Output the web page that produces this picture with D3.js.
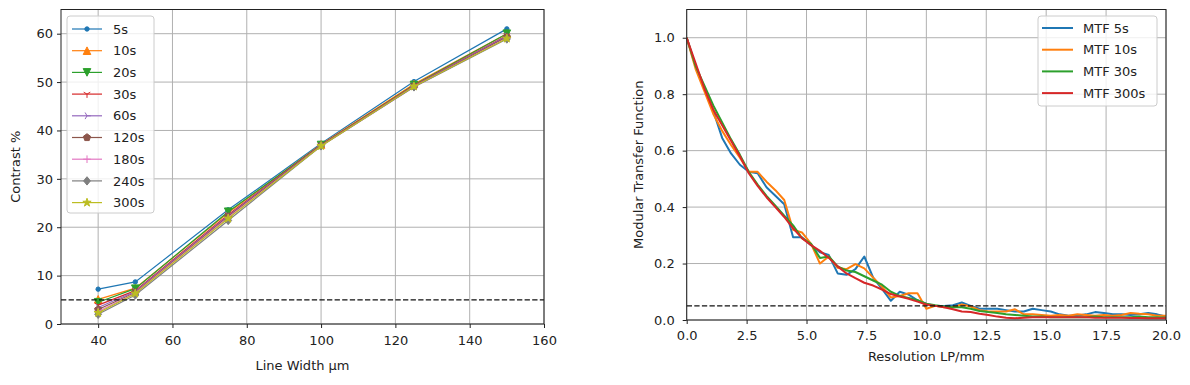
<!DOCTYPE html>
<html>
<head>
<meta charset="utf-8">
<script src="https://d3js.org/d3.v7.min.js"></script>
<style>
  body { margin: 0; background: #fff; }
  text { font-family: "DejaVu Sans", sans-serif; fill: #222; }
</style>
</head>
<body>
<div id="chart"></div>
<script>
// ---- left panel: contrast vs line width ----
var lineWidths = [40, 50, 75, 100, 125, 150];
var exposures = ["5s", "10s", "20s", "30s", "60s", "120s", "180s", "240s", "300s"];
var contrast5s   = [7.2, 8.7, 23.6, 37.3, 50.1, 61.0];
var contrast10s  = [5.1, 7.4, 23.0, 37.1, 49.6, 60.0];
var contrast20s  = [4.5, 7.3, 23.2, 37.0, 49.4, 60.0];
var contrast30s  = [3.9, 6.9, 22.6, 37.0, 49.3, 59.6];
var contrast60s  = [3.4, 6.7, 22.4, 36.9, 49.2, 59.5];
var contrast120s = [3.0, 6.5, 22.2, 36.9, 49.1, 59.3];
var contrast180s = [2.6, 6.4, 22.0, 36.8, 49.0, 59.1];
var contrast240s = [2.0, 6.0, 21.4, 36.8, 49.0, 58.9];
var contrast300s = [2.3, 6.3, 21.8, 36.8, 49.1, 59.0];
var contrastSeries = [contrast5s, contrast10s, contrast20s, contrast30s, contrast60s,
                      contrast120s, contrast180s, contrast240s, contrast300s];
var contrastXTicks = [40, 60, 80, 100, 120, 140, 160];
var contrastYTicks = [0, 10, 20, 30, 40, 50, 60];
var contrastLimit = 5;

// ---- right panel: MTF vs resolution ----
var mtfRes = [0.00, 0.37, 0.74, 1.11, 1.48, 1.85, 2.22, 2.59, 2.96, 3.33, 3.70, 4.07, 4.44, 4.81,
              5.19, 5.56, 5.93, 6.30, 6.67, 7.04, 7.41, 7.78, 8.15, 8.52, 8.89, 9.26, 9.63, 10.00,
              10.37, 10.74, 11.11, 11.48, 11.85, 12.22, 12.59, 12.96, 13.33, 13.70, 14.07, 14.44,
              14.81, 15.19, 15.56, 15.93, 16.30, 16.67, 17.04, 17.41, 17.78, 18.15, 18.52, 18.89,
              19.26, 19.63, 20.00];
var mtf5s = [1.0, 0.9, 0.82, 0.74, 0.645, 0.59, 0.55, 0.525, 0.52, 0.47, 0.44, 0.41, 0.293, 0.293,
             0.265, 0.24, 0.23, 0.165, 0.16, 0.18, 0.225, 0.15, 0.11, 0.068, 0.1, 0.09, 0.07, 0.057,
             0.05, 0.05, 0.052, 0.062, 0.05, 0.04, 0.04, 0.04, 0.035, 0.03, 0.03, 0.04, 0.035, 0.03,
             0.02, 0.015, 0.015, 0.02, 0.028, 0.025, 0.02, 0.02, 0.018, 0.02, 0.025, 0.02, 0.012];
var mtf10s = [1.0, 0.89, 0.81, 0.73, 0.67, 0.62, 0.575, 0.525, 0.525, 0.49, 0.46, 0.425, 0.32, 0.31,
              0.27, 0.2, 0.225, 0.185, 0.18, 0.198, 0.183, 0.15, 0.118, 0.08, 0.085, 0.095, 0.095, 0.04,
              0.05, 0.045, 0.045, 0.055, 0.048, 0.035, 0.03, 0.03, 0.03, 0.038, 0.02, 0.02, 0.018, 0.015,
              0.018, 0.015, 0.02, 0.018, 0.015, 0.018, 0.015, 0.018, 0.025, 0.022, 0.02, 0.015, 0.015];
var mtf30s = [1.0, 0.9, 0.83, 0.76, 0.70, 0.64, 0.585, 0.525, 0.48, 0.44, 0.405, 0.37, 0.335, 0.29,
              0.27, 0.22, 0.225, 0.19, 0.175, 0.17, 0.155, 0.14, 0.125, 0.1, 0.085, 0.078, 0.07, 0.058,
              0.052, 0.048, 0.045, 0.045, 0.04, 0.032, 0.028, 0.025, 0.02, 0.018, 0.015, 0.012, 0.012,
              0.01, 0.01, 0.01, 0.01, 0.01, 0.012, 0.01, 0.01, 0.01, 0.01, 0.012, 0.01, 0.01, 0.008];
var mtf300s = [1.0, 0.91, 0.82, 0.745, 0.69, 0.635, 0.58, 0.52, 0.475, 0.435, 0.40, 0.365, 0.325, 0.29,
               0.265, 0.245, 0.22, 0.19, 0.165, 0.148, 0.132, 0.122, 0.108, 0.092, 0.083, 0.075, 0.065,
               0.055, 0.05, 0.045, 0.038, 0.03, 0.028, 0.022, 0.018, 0.012, 0.008, 0.006, 0.008, 0.01,
               0.01, 0.01, 0.01, 0.01, 0.01, 0.01, 0.008, 0.008, 0.008, 0.008, 0.007, 0.007, 0.006,
               0.006, 0.006];
var mtfNames = ["MTF 5s", "MTF 10s", "MTF 30s", "MTF 300s"];
var mtfSeries = [mtf5s, mtf10s, mtf30s, mtf300s];
var mtfXTicks = [0, 2.5, 5, 7.5, 10, 12.5, 15, 17.5, 20];
var mtfYTicks = [0, 0.2, 0.4, 0.6, 0.8, 1.0];
var mtfLimit = 0.05;

var colors = ["#1f77b4", "#ff7f0e", "#2ca02c", "#d62728", "#9467bd",
              "#8c564b", "#e377c2", "#7f7f7f", "#bcbd22"];
var markerTypes = ["dot", "tri_up", "tri_down", "y_down", "y_right",
                   "pentagon", "plus", "diamond", "star"];
var fontSize = 13;

var svg = d3.select("#chart").append("svg")
    .attr("width", 1190)
    .attr("height", 385)
    .style("background", "#fff");

// marker shapes, roughly matching matplotlib's
function markerPath(type) {
    var s = 3.8;
    var p = d3.path();
    if (type == "tri_up") {
        p.moveTo(0, -s); p.lineTo(s, s); p.lineTo(-s, s); p.closePath();
    } else if (type == "tri_down") {
        p.moveTo(0, s); p.lineTo(s, -s); p.lineTo(-s, -s); p.closePath();
    } else if (type == "y_down") {
        p.moveTo(0, 0); p.lineTo(0, s);
        p.moveTo(0, 0); p.lineTo(-0.87 * s, -0.5 * s);
        p.moveTo(0, 0); p.lineTo(0.87 * s, -0.5 * s);
    } else if (type == "y_right") {
        p.moveTo(0, 0); p.lineTo(s, 0);
        p.moveTo(0, 0); p.lineTo(-0.5 * s, -0.87 * s);
        p.moveTo(0, 0); p.lineTo(-0.5 * s, 0.87 * s);
    } else if (type == "pentagon") {
        for (var i = 0; i < 5; i++) {
            var a = -Math.PI / 2 + i * 2 * Math.PI / 5;
            if (i == 0) p.moveTo(s * Math.cos(a), s * Math.sin(a));
            else p.lineTo(s * Math.cos(a), s * Math.sin(a));
        }
        p.closePath();
    } else if (type == "plus") {
        p.moveTo(-s, 0); p.lineTo(s, 0);
        p.moveTo(0, -s); p.lineTo(0, s);
    } else if (type == "diamond") {
        p.moveTo(0, -s * 1.1); p.lineTo(s * 0.9, 0); p.lineTo(0, s * 1.1); p.lineTo(-s * 0.9, 0); p.closePath();
    } else if (type == "star") {
        for (var k = 0; k < 10; k++) {
            var r = k % 2 == 0 ? s * 1.15 : s * 0.45;
            var b = -Math.PI / 2 + k * Math.PI / 5;
            if (k == 0) p.moveTo(r * Math.cos(b), r * Math.sin(b));
            else p.lineTo(r * Math.cos(b), r * Math.sin(b));
        }
        p.closePath();
    } else {
        p.arc(0, 0, 2.2, 0, 2 * Math.PI);
    }
    return p.toString();
}

function drawMarker(g, type, color, cx, cy) {
    var open = (type == "y_down" || type == "y_right" || type == "plus");
    g.append("path")
        .attr("d", markerPath(type))
        .attr("transform", "translate(" + cx + "," + cy + ")")
        .attr("fill", open ? "none" : color)
        .attr("stroke", color)
        .attr("stroke-width", 1);
}

// grid + ticks (frame drawn later on top)
function drawAxes(x, y, xTicks, yTicks, xFmt, yFmt, xPad, yPad) {
    var g = svg.append("g");
    var x0 = x.range()[0], x1 = x.range()[1];
    var y0 = y.range()[0], y1 = y.range()[1];

    g.selectAll(".gx").data(xTicks).enter().append("line")
        .attr("x1", function(d) { return x(d); }).attr("x2", function(d) { return x(d); })
        .attr("y1", y0).attr("y2", y1)
        .attr("stroke", "#b0b0b0").attr("stroke-width", 1);
    g.selectAll(".gy").data(yTicks).enter().append("line")
        .attr("x1", x0).attr("x2", x1)
        .attr("y1", function(d) { return y(d); }).attr("y2", function(d) { return y(d); })
        .attr("stroke", "#b0b0b0").attr("stroke-width", 1);

    var xa = svg.append("g")
        .attr("transform", "translate(0," + y0 + ")")
        .call(d3.axisBottom(x).tickValues(xTicks).tickFormat(xFmt).tickSize(4).tickPadding(xPad));
    var ya = svg.append("g")
        .attr("transform", "translate(" + x0 + ",0)")
        .call(d3.axisLeft(y).tickValues(yTicks).tickFormat(yFmt).tickSize(4).tickPadding(yPad));
    [xa, ya].forEach(function(a) {
        a.select(".domain").remove();
        a.selectAll("text").attr("font-size", fontSize).attr("font-family", "DejaVu Sans").attr("fill", "#222");
        a.selectAll(".tick line").attr("stroke", "#222").attr("stroke-width", 1);
    });
    return g;
}

function drawFrame(x, y) {
    svg.append("rect")
        .attr("x", x.range()[0]).attr("y", y.range()[1])
        .attr("width", x.range()[1] - x.range()[0])
        .attr("height", y.range()[0] - y.range()[1])
        .attr("fill", "none").attr("stroke", "#222").attr("stroke-width", 1);
}

// ---------- left chart ----------
var xL = d3.scaleLinear().domain([30, 160]).range([61, 544]);
var yL = d3.scaleLinear().domain([0, 65]).range([324, 9.5]);
drawAxes(xL, yL, contrastXTicks, contrastYTicks, d3.format("d"), d3.format("d"), 8, 4);

var lineL = d3.line()
    .x(function(d, i) { return xL(lineWidths[i]); })
    .y(function(d) { return yL(d); });

contrastSeries.forEach(function(s, k) {
    var g = svg.append("g");
    g.append("path").datum(s)
        .attr("d", lineL)
        .attr("fill", "none")
        .attr("stroke", colors[k])
        .attr("stroke-width", 1.2);
    s.forEach(function(v, i) {
        drawMarker(g, markerTypes[k], colors[k], xL(lineWidths[i]), yL(v));
    });
});

svg.append("line")
    .attr("x1", xL.range()[0]).attr("x2", xL.range()[1])
    .attr("y1", yL(contrastLimit)).attr("y2", yL(contrastLimit))
    .attr("stroke", "#111").attr("stroke-width", 1.2)
    .attr("stroke-dasharray", "5.3,2.3");
drawFrame(xL, yL);

// legend left
var legL = svg.append("g");
legL.append("rect")
    .attr("x", 67).attr("y", 16).attr("width", 87).attr("height", 197)
    .attr("rx", 3).attr("fill", "#fff").attr("fill-opacity", 0.8)
    .attr("stroke", "#ccc").attr("stroke-width", 1);
exposures.forEach(function(name, k) {
    var ly = 29 + k * 21.7;
    legL.append("line")
        .attr("x1", 72).attr("x2", 102).attr("y1", ly).attr("y2", ly)
        .attr("stroke", colors[k]).attr("stroke-width", 1.2);
    drawMarker(legL, markerTypes[k], colors[k], 87, ly);
    legL.append("text")
        .attr("x", 113).attr("y", ly).attr("dy", "0.36em")
        .attr("font-size", fontSize)
        .text(name);
});

svg.append("text")
    .attr("x", (xL.range()[0] + xL.range()[1]) / 2).attr("y", 370)
    .attr("text-anchor", "middle").attr("font-size", fontSize)
    .text("Line Width \u03bcm");
svg.append("text")
    .attr("transform", "translate(20," + (yL.range()[0] + yL.range()[1]) / 2 + ") rotate(-90)")
    .attr("text-anchor", "middle").attr("font-size", fontSize)
    .text("Contrast %");

// ---------- right chart ----------
var xR = d3.scaleLinear().domain([0, 20]).range([686.7, 1166]);
var yR = d3.scaleLinear().domain([0, 1.1]).range([320, 9.5]);
drawAxes(xR, yR, mtfXTicks, mtfYTicks, d3.format(".1f"), d3.format(".1f"), 7, 8);

var lineR = d3.line()
    .x(function(d, i) { return xR(mtfRes[i]); })
    .y(function(d) { return yR(d); });

svg.append("clipPath").attr("id", "clipR")
    .append("rect")
    .attr("x", xR.range()[0]).attr("y", yR.range()[1])
    .attr("width", xR.range()[1] - xR.range()[0])
    .attr("height", yR.range()[0] - yR.range()[1]);

mtfSeries.forEach(function(s, k) {
    svg.append("path").datum(s)
        .attr("d", lineR)
        .attr("clip-path", "url(#clipR)")
        .attr("fill", "none")
        .attr("stroke", colors[k])
        .attr("stroke-width", 2)
        .attr("stroke-linejoin", "round");
});

svg.append("line")
    .attr("x1", xR.range()[0]).attr("x2", xR.range()[1])
    .attr("y1", yR(mtfLimit)).attr("y2", yR(mtfLimit))
    .attr("stroke", "#111").attr("stroke-width", 1.2)
    .attr("stroke-dasharray", "5.3,2.3");
drawFrame(xR, yR);

var legR = svg.append("g");
legR.append("rect")
    .attr("x", 1038).attr("y", 16).attr("width", 119).attr("height", 90)
    .attr("rx", 3).attr("fill", "#fff").attr("fill-opacity", 0.8)
    .attr("stroke", "#ccc").attr("stroke-width", 1);
mtfNames.forEach(function(name, k) {
    var ly = 28 + k * 21.7;
    legR.append("line")
        .attr("x1", 1042).attr("x2", 1073).attr("y1", ly).attr("y2", ly)
        .attr("stroke", colors[k]).attr("stroke-width", 2);
    legR.append("text")
        .attr("x", 1083).attr("y", ly).attr("dy", "0.36em")
        .attr("font-size", fontSize)
        .text(name);
});

svg.append("text")
    .attr("x", (xR.range()[0] + xR.range()[1]) / 2).attr("y", 361)
    .attr("text-anchor", "middle").attr("font-size", fontSize)
    .text("Resolution LP/mm");
svg.append("text")
    .attr("transform", "translate(643," + (yR.range()[0] + yR.range()[1]) / 2 + ") rotate(-90)")
    .attr("text-anchor", "middle").attr("font-size", fontSize)
    .text("Modular Transfer Function");
</script>
</body>
</html>
